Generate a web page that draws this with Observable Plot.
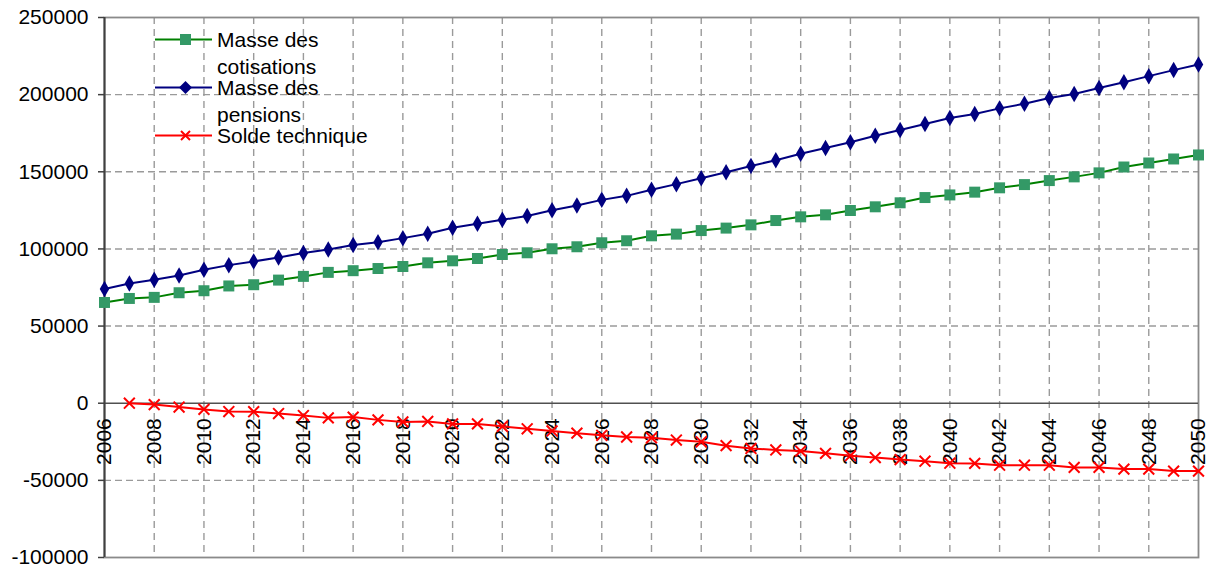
<!DOCTYPE html>
<html>
<head>
<meta charset="utf-8">
<script src="https://cdn.jsdelivr.net/npm/d3@7"></script>
<script src="https://cdn.jsdelivr.net/npm/@observablehq/plot@0.6"></script>
<style>
  html, body { margin: 0; padding: 0; background: #fff; }
  #chart { position: relative; width: 1213px; height: 570px; font-family: "Liberation Sans", Arial, sans-serif; }
  #legend { position: absolute; left: 155px; top: 27px; font-size: 21px; color: #000; line-height: 26.5px; }
  .item { display: flex; align-items: flex-start; margin-bottom: -5px; }
  .item svg { flex: none; margin-right: 2px; }
</style>
</head>
<body>
<div id="chart"></div>
<script>
// Projection 2006–2050 : masse des cotisations, masse des pensions, solde technique
const years = [2006, 2007, 2008, 2009, 2010, 2011, 2012, 2013, 2014, 2015, 2016, 2017, 2018, 2019, 2020,
  2021, 2022, 2023, 2024, 2025, 2026, 2027, 2028, 2029, 2030, 2031, 2032, 2033, 2034, 2035, 2036,
  2037, 2038, 2039, 2040, 2041, 2042, 2043, 2044, 2045, 2046, 2047, 2048, 2049, 2050];

const cotisations = [65300, 67900, 68600, 71600, 72900, 76000, 76800, 79800, 82200, 84800, 85900,
  87300, 88600, 91000, 92300, 93800, 96400, 97500, 100100, 101400, 104000, 105300,
  108500, 109600, 111900, 113500, 115600, 118400, 120800, 122100, 124900, 127300, 129900,
  133300, 135000, 136800, 139600, 141700, 144300, 146700, 149300, 153100, 155700, 158300, 160900];

const pensions = [74000, 77600, 80000, 82800, 86500, 89500, 91900, 94500, 97300, 99600, 102500,
  104400, 107000, 109800, 113700, 116300, 118900, 121400, 125100, 128100, 131800, 134400,
  138300, 142000, 145800, 149700, 153800, 157500, 161700, 165400, 169100, 173400, 177100,
  181000, 184800, 187400, 191100, 194100, 197800, 200400, 204300, 208000, 212000, 215900, 219600];

const solde = [null, 0, -900, -2500, -4000, -5400, -5500, -6700, -8000, -9500, -9000,
  -10800, -12100, -11800, -13400, -13400, -15000, -16600, -18000, -19400, -20800, -21900,
  -22400, -23900, -25000, -27500, -29300, -30300,
  -31000, -32500, -34000, -35200, -36500, -37600, -38900, -39000, -40200, -40200, -40200,
  -41600, -41600, -42700, -42700, -44000, -44000];

const yearTicks = [2006, 2008, 2010, 2012, 2014, 2016, 2018, 2020, 2022, 2024, 2026, 2028,
  2030, 2032, 2034, 2036, 2038, 2040, 2042, 2044, 2046, 2048, 2050];
const valueTicks = [-100000, -50000, 0, 50000, 100000, 150000, 200000, 250000];

const legendLabels = [["Masse des", "cotisations"], ["Masse des", "pensions"], ["Solde technique"]];

const rows = years.map((year, i) => ({year, cotisations: cotisations[i], pensions: pensions[i], solde: solde[i]}));
const soldeRows = rows.filter(d => d.solde != null);

const innerYearGrid = yearTicks.slice(1, -1);
const innerValueGrid = valueTicks.filter(v => v !== 0 && v !== valueTicks[0] && v !== valueTicks[valueTicks.length - 1]);

const chart = Plot.plot({
  width: 1213,
  height: 570,
  marginLeft: 104,
  marginRight: 15,
  marginTop: 17,
  marginBottom: 13,
  style: {fontFamily: "'Liberation Sans', Arial, sans-serif", fontSize: "21px", color: "#000", background: "#fff"},
  x: {domain: [2006, 2050], axis: null},
  y: {domain: [-100000, 250000], axis: null},
  marks: [
    Plot.gridX(innerYearGrid, {stroke: "#9a9a9a", strokeOpacity: 1, strokeWidth: 1.4, strokeDasharray: "7,5"}),
    Plot.gridY(innerValueGrid, {stroke: "#9a9a9a", strokeOpacity: 1, strokeWidth: 1.4, strokeDasharray: "7,4"}),
    Plot.frame({stroke: "#8a8a8a", strokeWidth: 1.8}),
    Plot.ruleY([0], {stroke: "#505050", strokeWidth: 1.6}),
    Plot.ruleX([years[0]], {stroke: "#404040", strokeWidth: 2}),
    Plot.axisY(valueTicks, {
      tickSize: 6, tickPadding: 10, stroke: "#404040", strokeWidth: 1.5,
      tickFormat: d => String(d), fontSize: 21, fill: "#000"
    }),
    Plot.text(yearTicks, {
      x: d => d, y: () => 0, text: d => String(d),
      rotate: -90, textAnchor: "end", dy: 15, fontSize: 21, fill: "#000"
    }),
    // cotisations
    Plot.line(rows, {x: "year", y: "cotisations", stroke: "#008000", strokeWidth: 2}),
    Plot.dot(rows, {x: "year", y: "cotisations", symbol: "square", r: 6.2, fill: "#339966", stroke: "none"}),
    // pensions
    Plot.line(rows, {x: "year", y: "pensions", stroke: "#000080", strokeWidth: 2}),
    Plot.dot(rows, {x: "year", y: "pensions", symbol: "diamond", r: 5, fill: "#000080", stroke: "none"}),
    // solde technique
    Plot.line(soldeRows, {x: "year", y: "solde", stroke: "#ff0000", strokeWidth: 2}),
    Plot.dot(soldeRows, {x: "year", y: "solde", symbol: "times", r: 5, stroke: "#ff0000", strokeWidth: 2})
  ]
});

const container = document.getElementById("chart");
container.appendChild(chart);

// Legend drawn inside the plot area, in the upper-left corner
const swatches = [
  {line: "#008000", marker: `<rect x="25" y="7" width="11" height="11" fill="#339966"/>`},
  {line: "#000080", marker: `<path d="M30.5,6 L37,12.5 L30.5,19 L24,12.5 Z" fill="#000080"/>`},
  {line: "#ff0000", marker: `<path d="M26,8 L35,17 M35,8 L26,17" stroke="#ff0000" stroke-width="2"/>`}
];
const legend = document.createElement("div");
legend.id = "legend";
swatches.forEach((s, i) => {
  const item = document.createElement("div");
  item.className = "item";
  item.innerHTML = `<svg width="60" height="26"><line x1="0" x2="57" y1="12.5" y2="12.5" stroke="${s.line}" stroke-width="2"/>${s.marker}</svg>` +
    `<div>${legendLabels[i].map(t => `<div>${t}</div>`).join("")}</div>`;
  legend.appendChild(item);
});
container.appendChild(legend);
</script>
</body>
</html>
